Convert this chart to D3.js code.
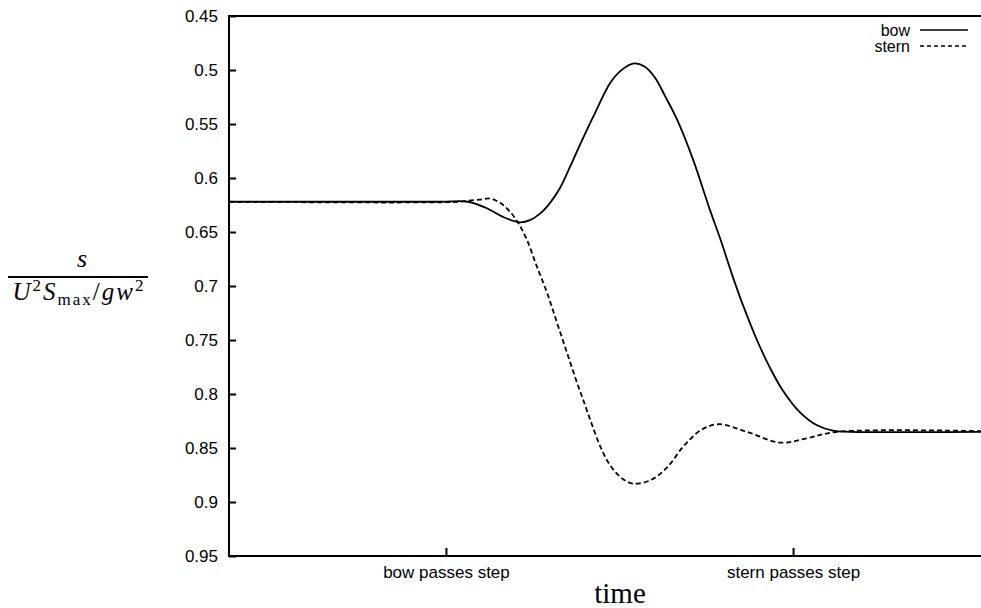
<!DOCTYPE html>
<html>
<head>
<meta charset="utf-8">
<script src="https://cdn.jsdelivr.net/npm/d3@7/dist/d3.min.js"></script>
<style>
  html, body { margin: 0; padding: 0; background: #fff; }
  svg { display: block; }
  text { fill: #000; }
</style>
</head>
<body>
<svg id="chart" width="981" height="608"></svg>
<script>
// Time is measured in ship lengths: 0 = bow passes the step, 1 = stern passes it.
const bowTime = [-0.625, -0.017, 0.063, 0.118, 0.164, 0.213, 0.242, 0.271, 0.300, 0.329, 0.357,
  0.378, 0.424, 0.473, 0.502, 0.539, 0.573, 0.602, 0.631, 0.666, 0.712, 0.761, 0.790,
  0.827, 0.856, 0.896, 0.934, 0.971, 1.020, 1.069, 1.115, 1.164, 1.625];
const bowSink = [0.622, 0.622, 0.622, 0.628, 0.636, 0.641, 0.639, 0.633, 0.623, 0.609, 0.590,
  0.575, 0.5435, 0.512, 0.501, 0.494, 0.497, 0.507, 0.524, 0.546, 0.583, 0.630, 0.656,
  0.692, 0.718, 0.750, 0.776, 0.797, 0.817, 0.829, 0.834, 0.835, 0.835];

const sternTime = [-0.625, 0.040, 0.063, 0.098, 0.127, 0.156, 0.184, 0.207, 0.233, 0.262, 0.291,
  0.320, 0.349, 0.378, 0.395, 0.418, 0.444, 0.467, 0.493, 0.516, 0.539, 0.588, 0.637,
  0.683, 0.732, 0.784, 0.867, 0.963, 1.040, 1.127, 1.625];
const sternSink = [0.622, 0.622, 0.621, 0.620, 0.619, 0.623, 0.631, 0.641, 0.657, 0.682, 0.706,
  0.734, 0.762, 0.790, 0.805, 0.826, 0.848, 0.863, 0.874, 0.880, 0.883, 0.880, 0.868,
  0.849, 0.834, 0.828, 0.835, 0.845, 0.841, 0.835, 0.835];

const yTicks = [0.45, 0.5, 0.55, 0.6, 0.65, 0.7, 0.75, 0.8, 0.85, 0.9, 0.95];
const xTicks = [0, 1];
const xTickLabels = ["bow passes step", "stern passes step"];
const seriesNames = ["bow", "stern"];

const svg = d3.select("#chart");
const plotLeft = 229, plotTop = 16, plotBottom = 556;

const x = d3.scaleLinear().domain([-0.625, 1.625]).range([plotLeft, 1010]);
const y = d3.scaleLinear().domain([0.45, 0.95]).range([plotTop, plotBottom]);

const font = "'Liberation Sans', Arial, Helvetica, sans-serif";
const serif = "'Liberation Serif', 'Times New Roman', serif";

// plot frame (the right edge falls outside the visible area)
svg.append("rect")
  .attr("x", plotLeft).attr("y", plotTop)
  .attr("width", x.range()[1] - plotLeft).attr("height", plotBottom - plotTop)
  .attr("fill", "none").attr("stroke", "#000").attr("stroke-width", 2);

// y axis, ticks pointing into the plot
const yAxis = svg.append("g")
  .attr("transform", `translate(${plotLeft},0)`)
  .call(d3.axisLeft(y).tickValues(yTicks).tickSize(-7).tickPadding(11)
    .tickFormat(d => String(+d.toFixed(2))));
yAxis.select(".domain").remove();
yAxis.selectAll(".tick line").attr("stroke", "#000").attr("stroke-width", 2);
yAxis.selectAll(".tick text").style("font-family", font).style("font-size", "17px");

// x axis with the two event markers
const xAxis = svg.append("g")
  .attr("transform", `translate(0,${plotBottom})`)
  .call(d3.axisBottom(x).tickValues(xTicks).tickSize(-8).tickPadding(10)
    .tickFormat((d, i) => xTickLabels[i]));
xAxis.select(".domain").remove();
xAxis.selectAll(".tick line").attr("stroke", "#000").attr("stroke-width", 2);
xAxis.selectAll(".tick text").style("font-family", font).style("font-size", "17px");

// curves
const line = d3.line()
  .x(d => x(d[0]))
  .y(d => y(d[1]))
  .curve(d3.curveCatmullRom.alpha(0.5));

const bowData = bowTime.map((t, i) => [t, bowSink[i]]);
const sternData = sternTime.map((t, i) => [t, sternSink[i]]);

svg.append("clipPath").attr("id", "plotclip")
  .append("rect").attr("x", plotLeft).attr("y", plotTop)
  .attr("width", x.range()[1] - plotLeft).attr("height", plotBottom - plotTop);

const plot = svg.append("g").attr("clip-path", "url(#plotclip)");
plot.append("path").datum(sternData).attr("d", line)
  .attr("fill", "none").attr("stroke", "#000").attr("stroke-width", 1.8)
  .attr("stroke-dasharray", "5,3");
plot.append("path").datum(bowData).attr("d", line)
  .attr("fill", "none").attr("stroke", "#000").attr("stroke-width", 1.8);

// legend
const legend = svg.append("g");
seriesNames.forEach((name, i) => {
  const ly = 30 + i * 16;
  legend.append("text").attr("x", 910).attr("y", ly).attr("dy", "0.35em")
    .attr("text-anchor", "end")
    .style("font-family", font).style("font-size", "16px").text(name);
  legend.append("line").attr("x1", 920).attr("x2", 968).attr("y1", ly).attr("y2", ly)
    .attr("stroke", "#000").attr("stroke-width", 1.5)
    .attr("stroke-dasharray", i === 0 ? null : "4,3");
});

// axis titles
svg.append("text").attr("x", 620).attr("y", 603).attr("text-anchor", "middle")
  .style("font-family", serif).style("font-size", "29px").text("time");

const yl = svg.append("g").style("font-family", serif);
yl.append("text").attr("x", 82).attr("y", 267).attr("text-anchor", "middle")
  .style("font-size", "26px").style("font-style", "italic").text("s");
yl.append("line").attr("x1", 8).attr("x2", 148).attr("y1", 277).attr("y2", 277)
  .attr("stroke", "#000").attr("stroke-width", 1.8);
const den = yl.append("text").attr("x", 79).attr("y", 300).attr("text-anchor", "middle")
  .style("font-size", "25px").style("letter-spacing", "2px");
den.append("tspan").style("font-style", "italic").text("U");
den.append("tspan").attr("dy", -9).style("font-size", "17px").text("2");
den.append("tspan").attr("dy", 9).style("font-style", "italic").text("S");
den.append("tspan").attr("dy", 5).style("font-size", "17px").text("max");
den.append("tspan").attr("dy", -5).text("/");
den.append("tspan").style("font-style", "italic").text("gw");
den.append("tspan").attr("dy", -9).style("font-size", "17px").text("2");
</script>
</body>
</html>
